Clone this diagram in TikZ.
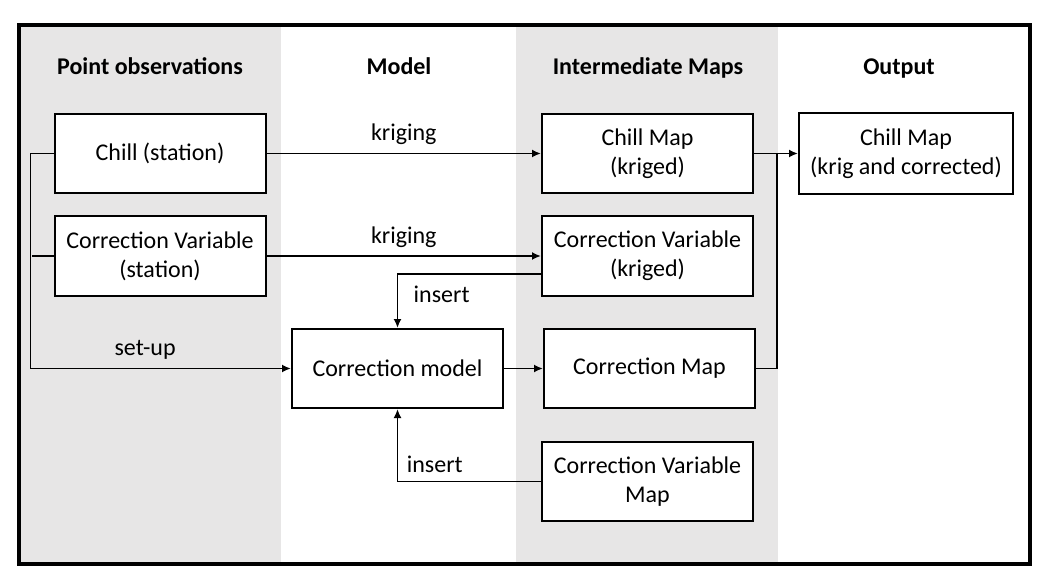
\documentclass[tikz,border=0pt]{standalone}
\usepackage{fontspec}
\setmainfont{Carlito}
\usetikzlibrary{calc,arrows.meta}

\definecolor{bandgray}{HTML}{E7E6E6}

\begin{document}
\begin{tikzpicture}[x=1pt,y=-1pt,
    box/.style={draw,fill=white,line width=2pt,minimum width=211pt,minimum height=79pt,align=center,inner sep=0pt,font=\fontsize{24}{29}\selectfont},
    head/.style={font=\fontsize{24}{29}\selectfont\bfseries,text height=17pt,text depth=5pt},
    lbl/.style={font=\fontsize{24}{29}\selectfont},
    arr/.style={line width=1.8pt,-{Latex[length=9pt,width=8pt]}},
    ln/.style={line width=1.8pt}]
    \useasboundingbox (0,0) rectangle (1057,585);
    % columns
    \fill[bandgray] (20,25) rectangle (281,564);
    \fill[bandgray] (516,25) rectangle (778,564);
    \draw[line width=3.5pt] (19,25) rectangle (1030,564);
    % headers
    \node[head] (hpoint) at (150,69) {Point observations};
    \node[head] (hmodel) at (399,69) {Model};
    \node[head] (hinter) at (648,69) {Intermediate Maps};
    \node[head] (hout) at (899,69) {Output};
    % boxes
    \node[box] (chill) at (160,153.5) {Chill (station)};
    \node[box] (cvst) at (160,256) {Correction Variable\\(station)};
    \node[box] (cmodel) at (397.5,368.5) {Correction model};
    \node[box] (chillmap) at (647.5,153.5) {Chill Map\\(kriged)};
    \node[box] (cvkrig) at (647.5,256) {Correction Variable\\(kriged)};
    \node[box] (cmap) at (649.5,368.5) {Correction Map};
    \node[box] (cvmap) at (647.5,481.5) {Correction Variable\\Map};
    \node[box,minimum width=214pt,minimum height=81pt] (out) at (906,153.5) {Chill Map\\(krig and corrected)};
    % connectors
    \draw[arr] (chill.east) -- node[lbl,above=5pt]{kriging} (chillmap.west);
    \draw[arr] (cvst.east) -- node[lbl,above=4pt]{kriging} (cvkrig.west);
    \draw[arr] ([yshift=-18pt]cvkrig.west) -| node[lbl,anchor=north west,xshift=12pt,yshift=-8pt]{insert} (cmodel.north);
    \draw[arr] (chill.west) -- ++(-23,0) |- node[lbl,pos=0.72,above=5pt]{set-up} (cmodel.west);
    \draw[ln] (cvst.west) -- ++(-22,0);
    \draw[arr] (cmodel.east) -- (cmap.west);
    \coordinate (join) at (777,153.5);
    \draw[arr] (chillmap.east) -- (out.west);
    \draw[ln] (cmap.east) -| (join);
    \draw[arr] (cvmap.west) -| node[lbl,pos=0.37,above=5pt]{insert} (cmodel.south);
\end{tikzpicture}
\end{document}
